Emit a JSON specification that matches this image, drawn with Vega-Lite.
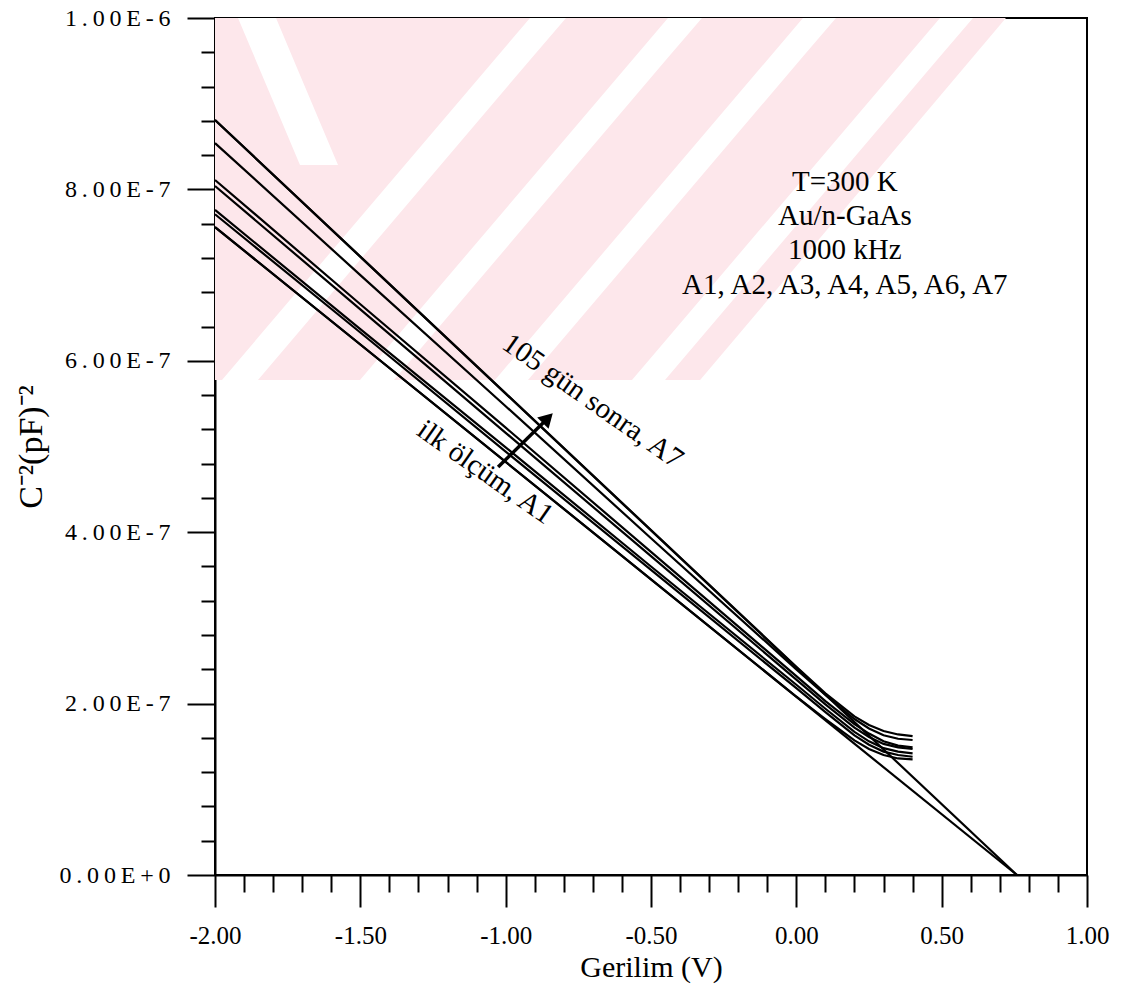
{
  "$schema": "https://vega.github.io/schema/vega-lite/v6.json",
  "width": 872,
  "height": 857,
  "autosize": {"type": "none"},
  "padding": {"left": 215, "top": 18, "right": 35, "bottom": 118},
  "background": "white",
  "config": {
    "view": {"stroke": "black", "strokeWidth": 2},
    "font": "Liberation Serif"
  },
  "datasets": {
    "mark_pink": [
      {"b": "p", "v": -2.0, "top": 1e-6, "bot": 5.776e-7},
      {"b": "p", "v": -0.331, "top": 1e-6, "bot": 5.776e-7},
      {"b": "p", "v": 0.721, "top": 1e-6, "bot": 1e-6}
    ],
    "mark_gaps": [
      {"b": "w1", "v": -1.9759, "top": 5.776e-7, "bot": 5.776e-7},
      {"b": "w1", "v": -1.8521, "top": 6.271e-7, "bot": 5.776e-7},
      {"b": "w1", "v": -0.9163, "top": 1e-6, "bot": 9.51e-7},
      {"b": "w1", "v": -0.7924, "top": 1e-6, "bot": 1e-6},
      {"b": "w2", "v": -1.5011, "top": 5.776e-7, "bot": 5.776e-7},
      {"b": "w2", "v": -1.3842, "top": 6.243e-7, "bot": 5.776e-7},
      {"b": "w2", "v": -0.4415, "top": 1e-6, "bot": 9.538e-7},
      {"b": "w2", "v": -0.3246, "top": 1e-6, "bot": 1e-6},
      {"b": "w3", "v": -1.0367, "top": 5.776e-7, "bot": 5.776e-7},
      {"b": "w3", "v": -0.9232, "top": 6.229e-7, "bot": 5.776e-7},
      {"b": "w3", "v": 0.0229, "top": 1e-6, "bot": 9.551e-7},
      {"b": "w3", "v": 0.1365, "top": 1e-6, "bot": 1e-6},
      {"b": "w4", "v": -0.5654, "top": 5.776e-7, "bot": 5.776e-7},
      {"b": "w4", "v": -0.4518, "top": 6.229e-7, "bot": 5.776e-7},
      {"b": "w4", "v": 0.4943, "top": 1e-6, "bot": 9.551e-7},
      {"b": "w4", "v": 0.6078, "top": 1e-6, "bot": 1e-6},
      {"b": "w5", "v": -1.9209, "top": 1e-6, "bot": 1e-6},
      {"b": "w5", "v": -1.7901, "top": 1e-6, "bot": 8.95e-7},
      {"b": "w5", "v": -1.7076, "top": 9.335e-7, "bot": 8.285e-7},
      {"b": "w5", "v": -1.5768, "top": 8.285e-7, "bot": 8.285e-7}
    ],
    "curves": [
      {"s": "A7", "v": -2.0, "c": 8.81e-7}, {"s": "A7", "v": -1.5, "c": 7.215e-7}, {"s": "A7", "v": -1.0, "c": 5.62e-7}, {"s": "A7", "v": -0.5, "c": 4.025e-7}, {"s": "A7", "v": 0.0, "c": 2.43e-7}, {"s": "A7", "v": 0.1, "c": 2.12e-7}, {"s": "A7", "v": 0.2, "c": 1.85e-7}, {"s": "A7", "v": 0.25, "c": 1.75e-7}, {"s": "A7", "v": 0.3, "c": 1.68e-7}, {"s": "A7", "v": 0.35, "c": 1.64e-7}, {"s": "A7", "v": 0.4, "c": 1.62e-7},
      {"s": "A6", "v": -2.0, "c": 8.54e-7}, {"s": "A6", "v": -1.5, "c": 7.0e-7}, {"s": "A6", "v": -1.0, "c": 5.47e-7}, {"s": "A6", "v": -0.5, "c": 3.93e-7}, {"s": "A6", "v": 0.0, "c": 2.4e-7}, {"s": "A6", "v": 0.1, "c": 2.1e-7}, {"s": "A6", "v": 0.2, "c": 1.82e-7}, {"s": "A6", "v": 0.25, "c": 1.71e-7}, {"s": "A6", "v": 0.3, "c": 1.63e-7}, {"s": "A6", "v": 0.35, "c": 1.59e-7}, {"s": "A6", "v": 0.4, "c": 1.575e-7},
      {"s": "A5", "v": -2.0, "c": 8.11e-7}, {"s": "A5", "v": -1.5, "c": 6.66e-7}, {"s": "A5", "v": -1.0, "c": 5.22e-7}, {"s": "A5", "v": -0.5, "c": 3.77e-7}, {"s": "A5", "v": 0.0, "c": 2.32e-7}, {"s": "A5", "v": 0.1, "c": 2.03e-7}, {"s": "A5", "v": 0.2, "c": 1.76e-7}, {"s": "A5", "v": 0.25, "c": 1.65e-7}, {"s": "A5", "v": 0.3, "c": 1.56e-7}, {"s": "A5", "v": 0.35, "c": 1.51e-7}, {"s": "A5", "v": 0.4, "c": 1.49e-7},
      {"s": "A4", "v": -2.0, "c": 8.04e-7}, {"s": "A4", "v": -1.5, "c": 6.6e-7}, {"s": "A4", "v": -1.0, "c": 5.16e-7}, {"s": "A4", "v": -0.5, "c": 3.72e-7}, {"s": "A4", "v": 0.0, "c": 2.28e-7}, {"s": "A4", "v": 0.1, "c": 1.99e-7}, {"s": "A4", "v": 0.2, "c": 1.72e-7}, {"s": "A4", "v": 0.25, "c": 1.61e-7}, {"s": "A4", "v": 0.3, "c": 1.53e-7}, {"s": "A4", "v": 0.35, "c": 1.49e-7}, {"s": "A4", "v": 0.4, "c": 1.47e-7},
      {"s": "A3", "v": -2.0, "c": 7.76e-7}, {"s": "A3", "v": -1.5, "c": 6.37e-7}, {"s": "A3", "v": -1.0, "c": 4.99e-7}, {"s": "A3", "v": -0.5, "c": 3.6e-7}, {"s": "A3", "v": 0.0, "c": 2.22e-7}, {"s": "A3", "v": 0.1, "c": 1.94e-7}, {"s": "A3", "v": 0.2, "c": 1.67e-7}, {"s": "A3", "v": 0.25, "c": 1.56e-7}, {"s": "A3", "v": 0.3, "c": 1.48e-7}, {"s": "A3", "v": 0.35, "c": 1.44e-7}, {"s": "A3", "v": 0.4, "c": 1.42e-7},
      {"s": "A2", "v": -2.0, "c": 7.71e-7}, {"s": "A2", "v": -1.5, "c": 6.33e-7}, {"s": "A2", "v": -1.0, "c": 4.94e-7}, {"s": "A2", "v": -0.5, "c": 3.56e-7}, {"s": "A2", "v": 0.0, "c": 2.18e-7}, {"s": "A2", "v": 0.1, "c": 1.9e-7}, {"s": "A2", "v": 0.2, "c": 1.63e-7}, {"s": "A2", "v": 0.25, "c": 1.52e-7}, {"s": "A2", "v": 0.3, "c": 1.44e-7}, {"s": "A2", "v": 0.35, "c": 1.4e-7}, {"s": "A2", "v": 0.4, "c": 1.38e-7},
      {"s": "A1", "v": -2.0, "c": 7.56e-7}, {"s": "A1", "v": -1.5, "c": 6.19e-7}, {"s": "A1", "v": -1.0, "c": 4.82e-7}, {"s": "A1", "v": -0.5, "c": 3.45e-7}, {"s": "A1", "v": 0.0, "c": 2.08e-7}, {"s": "A1", "v": 0.1, "c": 1.82e-7}, {"s": "A1", "v": 0.2, "c": 1.57e-7}, {"s": "A1", "v": 0.25, "c": 1.47e-7}, {"s": "A1", "v": 0.3, "c": 1.4e-7}, {"s": "A1", "v": 0.35, "c": 1.36e-7}, {"s": "A1", "v": 0.4, "c": 1.35e-7}
    ],
    "fits": [
      {"s": "A7", "v": -2.0, "c": 8.81e-7}, {"s": "A7", "v": 0.759, "c": 0},
      {"s": "A1", "v": -2.0, "c": 7.56e-7}, {"s": "A1", "v": 0.759, "c": 0}
    ],
    "notes": [
      {"t": "T=300 K", "v": 0.167, "c": 8.09e-7},
      {"t": "Au/n-GaAs", "v": 0.167, "c": 7.69e-7},
      {"t": "1000 kHz", "v": 0.167, "c": 7.29e-7},
      {"t": "A1, A2, A3, A4, A5, A6, A7", "v": 0.167, "c": 6.88e-7}
    ],
    "tags": [
      {"t": "105 gün sonra, A7", "v": -0.7, "c": 5.53e-7},
      {"t": "ilk ölçüm, A1", "v": -1.07, "c": 4.70e-7}
    ],
    "arrow": [
      {"v": -1.026, "c": 4.76e-7, "v2": -0.855, "c2": 5.33e-7}
    ]
  },
  "layer": [
    {
      "data": {"name": "mark_pink"},
      "mark": {"type": "area", "color": "#fde7eb", "opacity": 1, "interpolate": "linear"},
      "encoding": {
        "x": {"field": "v", "type": "quantitative", "axis": null},
        "y": {"field": "top", "type": "quantitative", "axis": null},
        "y2": {"field": "bot"},
        "detail": {"field": "b", "type": "nominal"}
      }
    },
    {
      "data": {"name": "mark_gaps"},
      "mark": {"type": "area", "color": "white", "opacity": 1, "interpolate": "linear"},
      "encoding": {
        "x": {"field": "v", "type": "quantitative", "axis": null},
        "y": {"field": "top", "type": "quantitative", "axis": null},
        "y2": {"field": "bot"},
        "detail": {"field": "b", "type": "nominal"}
      }
    },
    {
      "data": {"name": "curves"},
      "mark": {"type": "line", "color": "black", "strokeWidth": 2.2},
      "encoding": {
        "x": {
          "field": "v", "type": "quantitative",
          "scale": {"domain": [-2, 1], "nice": false, "zero": false},
          "axis": {
            "orient": "bottom",
            "values": [-2, -1.5, -1, -0.5, 0, 0.5, 1],
            "labelExpr": "replace(format(datum.value, '.2f'), '\u2212', '-')",
            "grid": false, "tickSize": 32, "tickWidth": 2, "tickColor": "black",
            "domainColor": "black", "domainWidth": 2,
            "labelFont": "Liberation Serif", "labelFontSize": 25, "labelColor": "black",
            "labelPadding": 16, "labelFlush": false, "labelOverlap": false,
            "title": "Gerilim (V)", "titleFont": "Liberation Serif", "titleFontSize": 30,
            "titleFontWeight": "normal", "titleColor": "black", "titlePadding": 4
          }
        },
        "y": {
          "field": "c", "type": "quantitative",
          "scale": {"domain": [0, 1e-6], "nice": false, "zero": false},
          "axis": {
            "orient": "left",
            "values": [0, 2e-7, 4e-7, 6e-7, 8e-7, 1e-6],
            "labelExpr": "replace(upper(format(datum.value, '.2e')), regexp('(.)(?!$)', 'g'), '$1\u2009')",
            "grid": false, "tickSize": 28, "tickWidth": 2, "tickColor": "black",
            "domainColor": "black", "domainWidth": 2,
            "labelFont": "Liberation Serif", "labelFontSize": 24, "labelColor": "black",
            "labelPadding": 17, "labelFlush": false, "labelOverlap": false,
            "title": "C\u207b\u00b2(pF)\u207b\u00b2", "titleFont": "Liberation Serif", "titleFontSize": 34,
            "titleFontWeight": "normal", "titleColor": "black", "titlePadding": 10
          }
        },
        "detail": {"field": "s", "type": "nominal"}
      }
    },
    {
      "data": {"name": "fits"},
      "mark": {"type": "line", "color": "black", "strokeWidth": 2.2},
      "encoding": {
        "x": {
          "field": "v", "type": "quantitative",
          "axis": {
            "orient": "bottom",
            "values": [-1.9, -1.8, -1.7, -1.6, -1.4, -1.3, -1.2, -1.1, -0.9, -0.8, -0.7, -0.6, -0.4, -0.3, -0.2, -0.1, 0.1, 0.2, 0.3, 0.4, 0.6, 0.7, 0.8, 0.9],
            "labels": false, "domain": false, "grid": false, "title": null,
            "tickSize": 17, "tickWidth": 2, "tickColor": "black"
          }
        },
        "y": {
          "field": "c", "type": "quantitative",
          "axis": {
            "orient": "left",
            "values": [4e-8, 8e-8, 1.2e-7, 1.6e-7, 2.4e-7, 2.8e-7, 3.2e-7, 3.6e-7, 4.4e-7, 4.8e-7, 5.2e-7, 5.6e-7, 6.4e-7, 6.8e-7, 7.2e-7, 7.6e-7, 8.4e-7, 8.8e-7, 9.2e-7, 9.6e-7],
            "labels": false, "domain": false, "grid": false, "title": null,
            "tickSize": 14, "tickWidth": 2, "tickColor": "black"
          }
        },
        "detail": {"field": "s", "type": "nominal"}
      }
    },
    {
      "data": {"name": "notes"},
      "mark": {"type": "text", "font": "Liberation Serif", "fontSize": 29, "color": "black", "align": "center", "baseline": "middle"},
      "encoding": {
        "x": {"field": "v", "type": "quantitative", "axis": null},
        "y": {"field": "c", "type": "quantitative", "axis": null},
        "text": {"field": "t"}
      }
    },
    {
      "data": {"name": "tags"},
      "mark": {"type": "text", "font": "Liberation Serif", "fontSize": 29, "color": "black", "align": "center", "baseline": "middle", "angle": 35},
      "encoding": {
        "x": {"field": "v", "type": "quantitative", "axis": null},
        "y": {"field": "c", "type": "quantitative", "axis": null},
        "text": {"field": "t"}
      }
    },
    {
      "data": {"name": "arrow"},
      "mark": {"type": "rule", "color": "black", "strokeWidth": 3.5},
      "encoding": {
        "x": {"field": "v", "type": "quantitative", "axis": null},
        "y": {"field": "c", "type": "quantitative", "axis": null},
        "x2": {"field": "v2"},
        "y2": {"field": "c2"}
      }
    },
    {
      "data": {"name": "arrow"},
      "mark": {"type": "point", "shape": "triangle-up", "filled": true, "color": "black", "opacity": 1, "size": 260, "angle": 45},
      "encoding": {
        "x": {"field": "v2", "type": "quantitative", "axis": null},
        "y": {"field": "c2", "type": "quantitative", "axis": null}
      }
    }
  ],
  "resolve": {"axis": {"x": "independent", "y": "independent"}}
}
